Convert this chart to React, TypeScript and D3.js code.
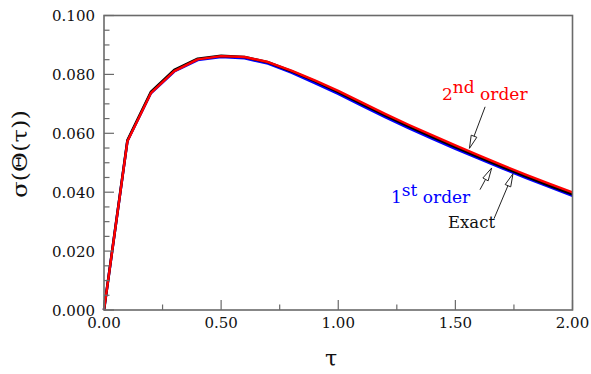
import React from "react";
import * as d3 from "d3";

// Standard deviation of Θ(τ): exact solution vs. first- and second-order approximations
const tau = [0, 0.1, 0.2, 0.3, 0.4, 0.5, 0.6, 0.7, 0.8, 0.9, 1.0, 1.1, 1.2, 1.3, 1.4, 1.5, 1.6, 1.7, 1.8, 1.9, 2.0];
const exact = [0, 0.0576, 0.074, 0.0815, 0.0853, 0.0863, 0.0859, 0.0841, 0.0811, 0.0777, 0.074, 0.07, 0.0661, 0.0624, 0.0588, 0.0553, 0.0519, 0.0486, 0.0454, 0.0423, 0.0393];
const firstOrder = [0, 0.0574, 0.0736, 0.081, 0.0849, 0.0859, 0.0855, 0.0837, 0.0806, 0.0771, 0.0734, 0.0694, 0.0655, 0.0618, 0.0582, 0.0547, 0.0514, 0.0481, 0.0449, 0.0418, 0.0388];
const secondOrder = [0, 0.0573, 0.0736, 0.0811, 0.0851, 0.0862, 0.0859, 0.0842, 0.0813, 0.078, 0.0744, 0.0705, 0.0666, 0.0629, 0.0594, 0.0559, 0.0525, 0.0492, 0.046, 0.0429, 0.0399];

const xTicks = [0, 0.5, 1.0, 1.5, 2.0];
const xMinorTicks = [0.25, 0.75, 1.25, 1.75];
const yTicks = [0, 0.02, 0.04, 0.06, 0.08, 0.1];
const yMinorTicks = d3.range(0, 0.1001, 0.005).filter((v) => Math.abs(v / 0.02 - Math.round(v / 0.02)) > 1e-6);

const W = 591;
const H = 374;
const left = 104;
const right = 572.5;
const top = 15.5;
const bottom = 310;

const frameColor = "#6a6a6a";
const font = "'DejaVu Serif', serif";

const x = d3.scaleLinear().domain([0, 2]).range([left, right]);
const y = d3.scaleLinear().domain([0, 0.1]).range([bottom, top]);

const line = (vals: number[]) =>
  d3
    .line<number>()
    .x((_, i) => x(tau[i]))
    .y((v) => y(v))(vals) as string;

const valueAt = (vals: number[], t: number) => {
  const interp = d3.scaleLinear().domain(tau).range(vals);
  return interp(t);
};

// Annotation arrows: tip sits on the curve, tail runs toward the label
const arrows = [
  { vals: secondOrder, t: 1.56, tipDy: -3, dx: 15.7, dy: -41.6 },
  { vals: firstOrder, t: 1.655, tipDy: 4, dx: -11.7, dy: 21.7 },
  { vals: exact, t: 1.746, tipDy: 2.5, dx: -19, dy: 45 },
];

function Arrow({ x1, y1, x2, y2 }: { x1: number; y1: number; x2: number; y2: number }) {
  const ang = Math.atan2(y2 - y1, x2 - x1);
  const len = 13;
  const hw = 3;
  const bx = x2 - len * Math.cos(ang);
  const by = y2 - len * Math.sin(ang);
  const px = -Math.sin(ang) * hw;
  const py = Math.cos(ang) * hw;
  const pts = `${x2},${y2} ${bx + px},${by + py} ${bx - px},${by - py}`;
  return (
    <g>
      <line x1={x1} y1={y1} x2={bx} y2={by} stroke="#222" strokeWidth={1} />
      <polygon points={pts} fill="#fff" stroke="#222" strokeWidth={1} />
    </g>
  );
}

export default function App() {
  return (
    <svg
      width={W}
      height={H}
      style={{ position: "absolute", left: 0, top: 0, background: "#fff", fontFamily: font }}
    >
      <rect x={0} y={0} width={W} height={H} fill="#fff" />

      {/* curves */}
      <path d={line(firstOrder)} fill="none" stroke="#0000ff" strokeWidth={2.6} strokeLinejoin="round" />
      <path d={line(exact)} fill="none" stroke="#000" strokeWidth={2.6} strokeLinejoin="round" />
      <path d={line(secondOrder)} fill="none" stroke="#ff0000" strokeWidth={2.4} strokeLinejoin="round" />

      {/* frame */}
      <rect x={left} y={top} width={right - left} height={bottom - top} fill="none" stroke={frameColor} strokeWidth={1.6} />

      {/* x ticks */}
      {xTicks.map((t) => (
        <g key={`xt${t}`}>
          <line x1={x(t)} x2={x(t)} y1={bottom} y2={bottom - 10} stroke={frameColor} strokeWidth={1.2} />
          <text x={x(t)} y={328} textAnchor="middle" fontSize={15} fill="#111" style={{ fontFamily: font }}>
            {t.toFixed(2)}
          </text>
        </g>
      ))}
      {xMinorTicks.map((t) => (
        <line key={`xm${t}`} x1={x(t)} x2={x(t)} y1={bottom} y2={bottom - 5.5} stroke={frameColor} strokeWidth={1.2} />
      ))}

      {/* y ticks */}
      {yTicks.map((v) => (
        <g key={`yt${v}`}>
          <line x1={left} x2={left + 10} y1={y(v)} y2={y(v)} stroke={frameColor} strokeWidth={1.2} />
          <text x={95} y={y(v) + 5.5} textAnchor="end" fontSize={15} fill="#111" style={{ fontFamily: font }}>
            {v.toFixed(3)}
          </text>
        </g>
      ))}
      {yMinorTicks.map((v) => (
        <line key={`ym${v}`} x1={left} x2={left + 5.5} y1={y(v)} y2={y(v)} stroke={frameColor} strokeWidth={1.2} />
      ))}

      {/* axis titles */}
      <text x={331} y={366} textAnchor="middle" fontSize={22} fill="#111" style={{ fontFamily: font }}>
        τ
      </text>
      <text
        transform={`translate(27,154) rotate(-90)`}
        textAnchor="middle"
        fontSize={21}
        fill="#111"
        style={{ fontFamily: font }}
        textLength={88}
        lengthAdjust="spacingAndGlyphs"
      >
        σ(Θ(τ))
      </text>

      {/* annotations */}
      {arrows.map((a, i) => {
        const tx = x(a.t);
        const ty = y(valueAt(a.vals, a.t)) + a.tipDy;
        return <Arrow key={i} x1={tx + a.dx} y1={ty + a.dy} x2={tx} y2={ty} />;
      })}
      <text x={442} y={100} fontSize={17} fill="#ff0000" style={{ fontFamily: font }}>
        2<tspan dy={-7}>nd</tspan>
        <tspan dy={7}> order</tspan>
      </text>
      <text x={391} y={203} fontSize={17} fill="#0000ff" style={{ fontFamily: font }}>
        1<tspan dy={-7}>st</tspan>
        <tspan dy={7}> order</tspan>
      </text>
      <text x={448} y={228} fontSize={16.5} fill="#111" style={{ fontFamily: font }}>
        Exact
      </text>
    </svg>
  );
}
